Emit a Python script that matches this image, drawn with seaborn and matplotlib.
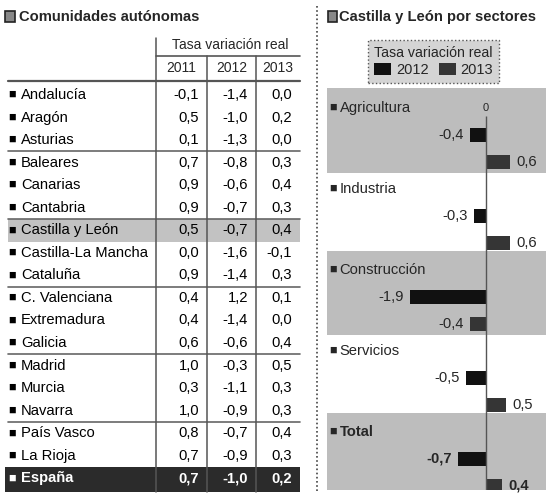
import pandas as pd
import matplotlib
matplotlib.use("Agg")
import matplotlib.pyplot as plt
from matplotlib.patches import Rectangle
import seaborn as sns

# ==========================================
# DATA
# ==========================================
regions = ['Andalucía', 'Aragón', 'Asturias', 'Baleares', 'Canarias', 'Cantabria',
           'Castilla y León', 'Castilla-La Mancha', 'Cataluña', 'C. Valenciana',
           'Extremadura', 'Galicia', 'Madrid', 'Murcia', 'Navarra', 'País Vasco',
           'La Rioja', 'España']
v2011 = [-0.1, 0.5, 0.1, 0.7, 0.9, 0.9, 0.5, 0.0, 0.9, 0.4, 0.4, 0.6, 1.0, 0.3, 1.0, 0.8, 0.7, 0.7]
v2012 = [-1.4, -1.0, -1.3, -0.8, -0.6, -0.7, -0.7, -1.6, -1.4, 1.2, -1.4, -0.6, -0.3, -1.1, -0.9, -0.7, -0.9, -1.0]
v2013 = [0.0, 0.2, 0.0, 0.3, 0.4, 0.3, 0.4, -0.1, 0.3, 0.1, 0.0, 0.4, 0.5, 0.3, 0.3, 0.4, 0.3, 0.2]
years = ['2011', '2012', '2013']

sectors = ['Agricultura', 'Industria', 'Construcción', 'Servicios', 'Total']
s2012 = [-0.4, -0.3, -1.9, -0.5, -0.7]
s2013 = [0.6, 0.6, -0.4, 0.5, 0.4]

highlight = 'Castilla y León'
group_breaks = [3, 6, 9, 12, 15]   # lines drawn before these row indexes


def fmt(v):
    return f"{v:.1f}".replace('.', ',')


sns.set_theme(style="white")
plt.rcParams['font.family'] = ['Liberation Sans', 'DejaVu Sans']

W, H = 546, 493
fig = plt.figure(figsize=(W / 100, H / 100), dpi=100)

# overlay axes in pixel coordinates for the table / titles
ov = fig.add_axes([0, 0, 1, 1])
ov.set_xlim(0, W)
ov.set_ylim(H, 0)
ov.axis('off')

FS = 10.6
line_c = '#555555'

# ==========================================
# LEFT: TABLE
# ==========================================
ov.add_patch(Rectangle((5, 11), 10, 11, facecolor='#888888', edgecolor='#222222', lw=1.2))
ov.text(19, 17, 'Comunidades autónomas', fontsize=FS, fontweight='bold', va='center', ha='left')

col_edges = [156, 207, 256, 300]
ov.text((col_edges[0] + col_edges[3]) / 2 + 2, 45, 'Tasa variación real', fontsize=10, ha='center', va='center')
ov.plot([col_edges[0], col_edges[3]], [56, 56], color=line_c, lw=1.2)
for i, yr in enumerate(years):
    ov.text((col_edges[i] + col_edges[i + 1]) / 2, 68, yr, fontsize=10, ha='center', va='center')

row0, step = 95, 22.55
n = len(regions)
bottom = row0 + (n - 0.5) * step

# highlight + España band
hi = regions.index(highlight)
ov.add_patch(Rectangle((8, row0 + (hi - 0.5) * step), col_edges[3] - 8, step,
                       facecolor='#c2c2c2', edgecolor='none'))
ov.add_patch(Rectangle((5, row0 + (n - 1.5) * step), col_edges[3] - 5, step + 2,
                       facecolor='#2b2b2b', edgecolor='none'))

ov.plot([8, col_edges[3]], [81, 81], color=line_c, lw=1.6)
for b in group_breaks:
    yb = row0 + (b - 0.5) * step
    ov.plot([8, col_edges[3]], [yb, yb], color='#666666', lw=1.2)

ov.plot([col_edges[0], col_edges[0]], [38, bottom + 2], color=line_c, lw=1.1)
for xe in col_edges[1:3]:
    ov.plot([xe, xe], [56, bottom + 2], color=line_c, lw=1.1)

cols = [v2011, v2012, v2013]
for i, name in enumerate(regions):
    y = row0 + i * step
    last = i == n - 1
    c = 'white' if last else 'black'
    w = 'bold' if last else 'normal'
    ov.text(8, y, '■', fontsize=9, color=c, va='center', ha='left')
    ov.text(21, y, name, fontsize=FS, color=c, fontweight=w, va='center', ha='left')
    for j, vals in enumerate(cols):
        ov.text(col_edges[j + 1] - 8, y, fmt(vals[i]), fontsize=FS, color=c,
                fontweight=w, va='center', ha='right')

# dotted separator
ov.plot([317, 317], [6, H], color='#444444', lw=1.2, ls=(0, (1, 1.5)))

# ==========================================
# RIGHT: SECTOR BARS
# ==========================================
ov.add_patch(Rectangle((328, 11), 9, 11, facecolor='#888888', edgecolor='#222222', lw=1.2))
ov.text(339, 17, 'Castilla y León por sectores', fontsize=FS, fontweight='bold', va='center', ha='left')

order = []
rows = []
for s, a, b in zip(sectors, s2012, s2013):
    order += [s + '_lbl', s + '_2012', s + '_2013']
    rows.append({'slot': s + '_2012', 'value': a, 'year': '2012'})
    rows.append({'slot': s + '_2013', 'value': b, 'year': '2013'})
df = pd.DataFrame(rows)

ax = fig.add_axes([327 / W, 3 / H, (W - 327) / W, (490 - 88) / H])
ax.set_facecolor('white')

ymax, ymin = 14.15, -0.74
for k in range(0, len(sectors), 2):
    lo = 3 * k - 0.74 if k == 0 else 3 * k - 0.72
    hi_ = min(3 * k + 2.4, ymax)
    ax.axhspan(lo, hi_, color='#bdbdbd', lw=0, zorder=0)

sns.barplot(data=df, y='slot', x='value', hue='year', order=order,
            hue_order=['2012', '2013'], palette={'2012': '#111111', '2013': '#353535'},
            dodge=False, width=0.54, orient='h', errorbar=None, saturation=1,
            linewidth=0, ax=ax, zorder=3)

ax.vlines(0, 0.3, ymax, color='#555555', lw=1, zorder=4)
ax.text(0, 0, '0', fontsize=8, ha='center', va='center')

ax.set_xlim(-3.97, 1.5)
ax.set_ylim(ymax, ymin)
ax.set_xticks([])
ax.set_yticks([])
ax.set_xlabel('')
ax.set_ylabel('')
for sp in ax.spines.values():
    sp.set_visible(False)

tr = ax.get_yaxis_transform()
for k, s in enumerate(sectors):
    w = 'bold' if s == 'Total' else 'normal'
    ax.text(0.012, 3 * k, '■', fontsize=9, transform=tr, va='center', ha='left')
    ax.text(0.058, 3 * k, s, fontsize=FS, fontweight=w, transform=tr, va='center', ha='left')
    for off, v in ((1, s2012[k]), (2, s2013[k])):
        ax.annotate(fmt(v), (v, 3 * k + off), xytext=(-6 if v < 0 else 6, 0),
                    textcoords='offset pixels', ha='right' if v < 0 else 'left',
                    va='center', fontsize=FS, fontweight=w)

handles, labels = ax.get_legend_handles_labels()
if ax.get_legend() is not None:
    ax.get_legend().remove()
leg = ax.legend(handles, labels, title='Tasa variación real', ncol=2, loc='center',
                bbox_to_anchor=(433.5 / W, 1 - 61.5 / H), bbox_transform=fig.transFigure,
                frameon=True, facecolor='#d4d4d4', edgecolor='#555555', fancybox=False,
                fontsize=10.5, title_fontsize=10.2, handlelength=1.2, handleheight=0.9,
                handletextpad=0.3, columnspacing=0.7, borderpad=0.4, labelspacing=0.2)
leg.get_frame().set_linestyle(':')
leg.get_frame().set_alpha(1)

fig.savefig('out.png', dpi=100)
